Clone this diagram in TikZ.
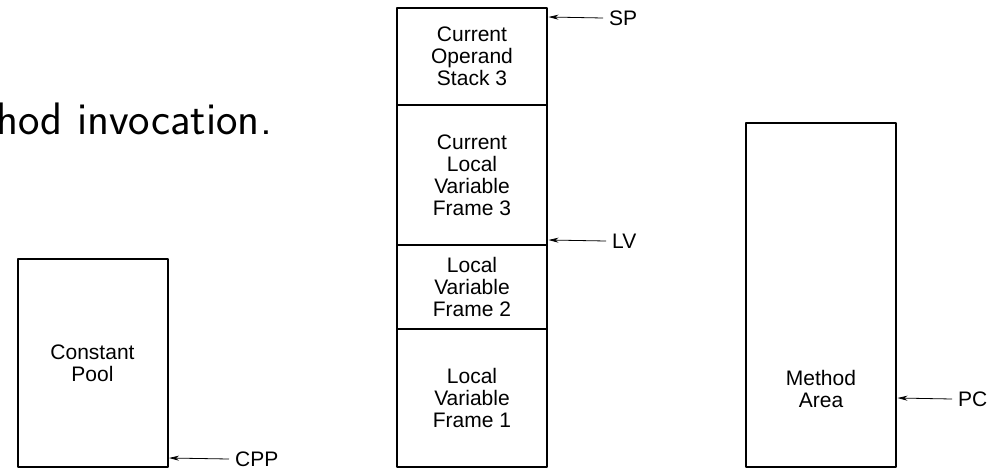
\documentclass[tikz,border=0pt]{standalone}
\usepackage{fontspec}
\newfontfamily\helv{Liberation Sans}
\usetikzlibrary{positioning,arrows.meta}
\begin{document}
\begin{tikzpicture}[x=1pt,y=-1pt,>={Stealth[length=10pt,width=5pt]},
  font=\helv\fontsize{21}{22}\selectfont, line join=round,
  box/.style={draw,line width=2pt,minimum width=150pt,outer sep=0pt,inner sep=0pt,align=center},
  ptr/.style={->,line width=0.8pt},
  lbl/.style={anchor=west,inner xsep=6pt,inner ysep=0pt}]
\useasboundingbox (0,0) rectangle (1003,468);
\node[anchor=base west,inner sep=0pt,font=\sffamily\fontsize{45.5}{50}\selectfont] (title) at (-4,135) {hod invocation.};
\node[box,minimum height=208pt] (pool) at (92.5,363) {Constant\\Pool};
\node[box,minimum height=97pt] (stack3) at (472,56.5) {Current\\Operand\\Stack 3};
\node[box,minimum height=140pt,below=0pt of stack3] (frame3) {Current\\Local\\Variable\\Frame 3};
\node[box,minimum height=84pt,below=0pt of frame3] (frame2) {Local\\Variable\\Frame 2};
\node[box,minimum height=138pt,below=0pt of frame2] (frame1) {Local\\Variable\\Frame 1};
\node[box,minimum height=344pt] (method) at (821,295) {};
\node[align=center,inner sep=0pt] (methodtext) at (821,389) {Method\\Area};
\coordinate (spto) at (548.5,17);
\coordinate (lvto) at (548.5,240);
\coordinate (cppto) at (169,458);
\coordinate (pcto) at (897.5,398);
\node[lbl] (sp) at (603,18) {SP};
\node[lbl] (lv) at (606,241) {LV};
\node[lbl] (cpp) at (229,459) {CPP};
\node[lbl] (pc) at (952,399) {PC};
\draw[ptr] (sp.west) -- (spto);
\draw[ptr] (lv.west) -- (lvto);
\draw[ptr] (cpp.west) -- (cppto);
\draw[ptr] (pc.west) -- (pcto);
\end{tikzpicture}
\end{document}
